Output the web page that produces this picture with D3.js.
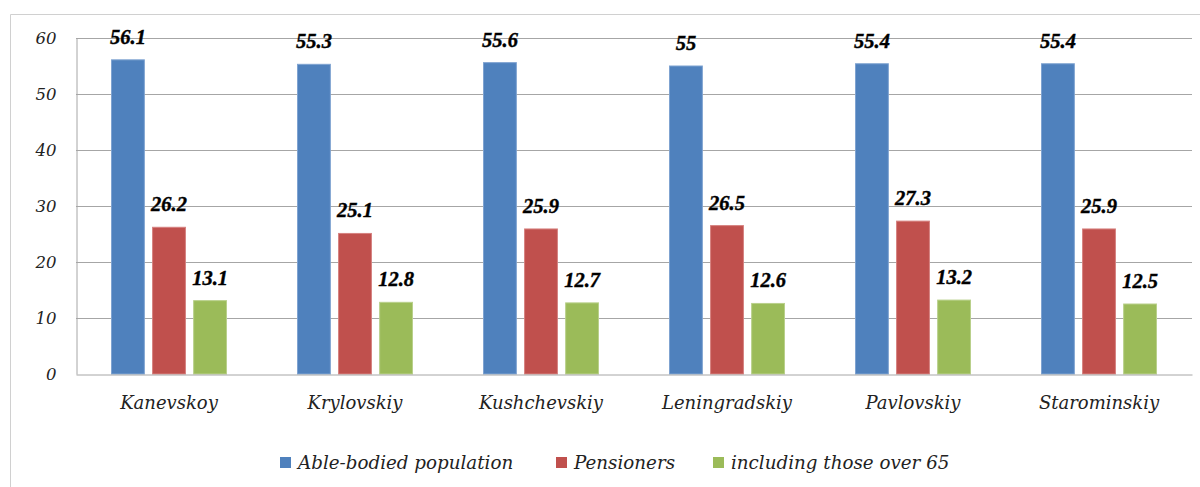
<!DOCTYPE html>
<html>
<head>
<meta charset="utf-8">
<script src="https://cdn.jsdelivr.net/npm/d3@7/dist/d3.min.js"></script>
<style>
  html, body { margin: 0; padding: 0; background: #fff; }
  svg { display: block; }
</style>
</head>
<body>
<svg id="chart" width="1200" height="487"></svg>
<script>
// Population structure by district, %
const districts = ["Kanevskoy", "Krylovskiy", "Kushchevskiy", "Leningradskiy", "Pavlovskiy", "Starominskiy"];
const seriesNames = ["Able-bodied population", "Pensioners", "including those over 65"];
const ableBodied = [56.1, 55.3, 55.6, 55, 55.4, 55.4];
const pensioners = [26.2, 25.1, 25.9, 26.5, 27.3, 25.9];
const over65 = [13.1, 12.8, 12.7, 12.6, 13.2, 12.5];
const yTicks = [0, 10, 20, 30, 40, 50, 60];
const colors = ["#4F81BD", "#C0504D", "#9BBB59"];
const strokes = ["#7FA3D1", "#D6817F", "#B9D08B"];

const seriesValues = [ableBodied, pensioners, over65];

const svg = d3.select("#chart");

// outer frame of the chart area
svg.append("path")
  .attr("d", "M10.5,487 V14.5 H1200")
  .attr("fill", "none")
  .attr("stroke", "#D0D0D0")
  .attr("stroke-width", 1);

const plotLeft = 76, plotRight = 1192, plotTop = 38, plotBottom = 374;

const x = d3.scaleBand().domain(districts).range([plotLeft, plotRight]).padding(0);
const inner = d3.scaleBand().domain(d3.range(seriesNames.length))
  .range([-57.5, 57.5]).paddingInner(0.2);
const y = d3.scaleLinear().domain([0, 60]).range([plotBottom, plotTop]);

// horizontal gridlines
svg.append("g")
  .selectAll("line")
  .data(yTicks.filter(d => d > 0))
  .join("line")
  .attr("x1", plotLeft).attr("x2", plotRight)
  .attr("y1", d => Math.round(y(d)) + 0.5).attr("y2", d => Math.round(y(d)) + 0.5)
  .attr("stroke", "#A6A6A6").attr("stroke-width", 1);

// y axis
const yAxis = svg.append("g")
  .attr("transform", `translate(${plotLeft + 0.5},0)`)
  .call(d3.axisLeft(y).tickValues(yTicks).tickSize(0).tickPadding(20));
yAxis.select(".domain").attr("stroke", "#A6A6A6");
yAxis.selectAll("text")
  .attr("font-family", "DejaVu Serif")
  .attr("font-style", "italic")
  .attr("font-size", 16.5)
  .attr("fill", "#222");

// bars
const groups = svg.append("g")
  .selectAll("g")
  .data(districts)
  .join("g")
  .attr("transform", d => `translate(${x(d) + x.bandwidth() / 2},0)`);

groups.selectAll("rect")
  .data((d, i) => seriesValues.map((vals, s) => ({ s, v: vals[i] })))
  .join("rect")
  .attr("x", d => inner(d.s))
  .attr("width", inner.bandwidth())
  .attr("y", d => y(d.v))
  .attr("height", d => y(0) - y(d.v))
  .attr("fill", d => colors[d.s])
  .attr("stroke", d => strokes[d.s])
  .attr("stroke-width", 1);

// value labels
groups.selectAll("text.val")
  .data((d, i) => seriesValues.map((vals, s) => ({ s, v: vals[i] })))
  .join("text")
  .attr("class", "val")
  .attr("x", d => inner(d.s) + inner.bandwidth() / 2)
  .attr("y", d => y(d.v) - 16)
  .attr("text-anchor", "middle")
  .attr("font-family", "Liberation Serif")
  .attr("font-weight", "bold")
  .attr("font-style", "italic")
  .attr("font-size", 20.5)
  .attr("fill", "#000")
  .attr("stroke", "#000")
  .attr("stroke-width", 0.4)
  .text(d => d.v);

// x axis
const xAxis = svg.append("g")
  .attr("transform", `translate(0,${plotBottom + 0.5})`)
  .call(d3.axisBottom(x).tickSize(0).tickPadding(22));
xAxis.select(".domain").attr("stroke", "#A6A6A6");
xAxis.selectAll("text")
  .attr("font-family", "DejaVu Serif")
  .attr("font-style", "italic")
  .attr("font-size", 18)
  .attr("fill", "#222");

// legend
const legendX = [280, 556, 713];
const legend = svg.append("g")
  .selectAll("g")
  .data(seriesNames)
  .join("g")
  .attr("transform", (d, i) => `translate(${legendX[i]},463)`);
legend.append("rect")
  .attr("x", 0).attr("y", -6).attr("width", 11).attr("height", 11)
  .attr("fill", (d, i) => colors[i]);
legend.append("text")
  .attr("x", 18).attr("y", 6)
  .attr("font-family", "DejaVu Serif")
  .attr("font-style", "italic")
  .attr("font-size", 18.3)
  .attr("fill", "#222")
  .text(d => d);
</script>
</body>
</html>
